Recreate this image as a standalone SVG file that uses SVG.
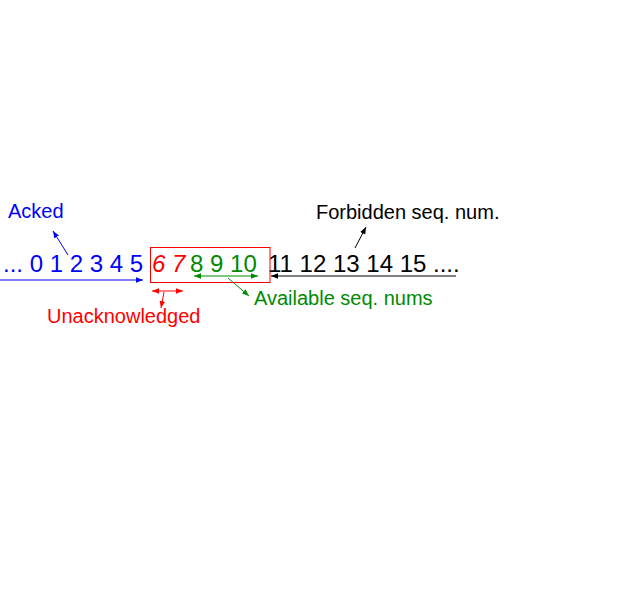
<svg xmlns="http://www.w3.org/2000/svg" width="638" height="595" viewBox="0 0 638 595">
<style>
text{font-family:"Liberation Sans",Arial,sans-serif}
.num{font-size:24px}
.lbl{font-size:20px}
.ln{fill:none;stroke-width:1}
</style>
<defs>
<marker id="ab" viewBox="0 0 10 10" refX="10" refY="5" markerWidth="7" markerHeight="7" orient="auto-start-reverse" markerUnits="userSpaceOnUse"><path d="M0,1 L10,5 L0,9 z" fill="#0000ff"/></marker>
<marker id="ar" viewBox="0 0 10 10" refX="10" refY="5" markerWidth="7" markerHeight="7" orient="auto-start-reverse" markerUnits="userSpaceOnUse"><path d="M0,1 L10,5 L0,9 z" fill="#ff0000"/></marker>
<marker id="ag" viewBox="0 0 10 10" refX="10" refY="5" markerWidth="7" markerHeight="7" orient="auto-start-reverse" markerUnits="userSpaceOnUse"><path d="M0,1 L10,5 L0,9 z" fill="#008a00"/></marker>
<marker id="ak" viewBox="0 0 10 10" refX="10" refY="5" markerWidth="7" markerHeight="7" orient="auto-start-reverse" markerUnits="userSpaceOnUse"><path d="M0,1 L10,5 L0,9 z" fill="#000"/></marker>
</defs>
<rect width="638" height="595" fill="#fff"/>
<g id="acked">
<text class="num" x="3" y="272" fill="#0000ff">... 0 1 2 3 4 5</text>
<text class="lbl" x="8" y="218" fill="#0000ff">Acked</text>
</g>
<g id="unacked">
<rect x="150.5" y="247.5" width="119.5" height="35" fill="none" stroke="#ff0000" stroke-width="1"/>
<text class="num" x="152" y="272" fill="#ff0000" font-style="italic">6 7</text>
<text class="lbl" x="47" y="323" fill="#ff0000">Unacknowledged</text>
</g>
<g id="available">
<text class="num" x="190" y="272" fill="#008a00">8 9 10</text>
<text class="lbl" x="254" y="305" fill="#008a00">Available seq. nums</text>
</g>
<g id="forbidden">
<text class="num" x="268" y="272" fill="#000">11 12 13 14 15 ....</text>
<text class="lbl" x="316" y="219" fill="#000">Forbidden seq. num.</text>
</g>
<g id="connectors">
<line class="ln" x1="0" y1="280" x2="143" y2="280" stroke="#0000ff" marker-end="url(#ab)"/>
<line class="ln" x1="68" y1="255" x2="53" y2="231" stroke="#0000ff" marker-end="url(#ab)"/>
<line class="ln" x1="152" y1="291" x2="183" y2="291" stroke="#ff0000" marker-start="url(#ar)" marker-end="url(#ar)"/>
<line class="ln" x1="164" y1="292" x2="161" y2="308" stroke="#ff0000" marker-end="url(#ar)"/>
<line class="ln" x1="194" y1="276" x2="258" y2="276" stroke="#008a00" marker-start="url(#ag)" marker-end="url(#ag)"/>
<line class="ln" x1="228" y1="278" x2="249" y2="296" stroke="#008a00" marker-end="url(#ag)"/>
<line class="ln" x1="456" y1="276" x2="271" y2="276" stroke="#000" marker-end="url(#ak)"/>
<line class="ln" x1="355" y1="248" x2="366" y2="227" stroke="#000" marker-end="url(#ak)"/>
</g>
</svg>
